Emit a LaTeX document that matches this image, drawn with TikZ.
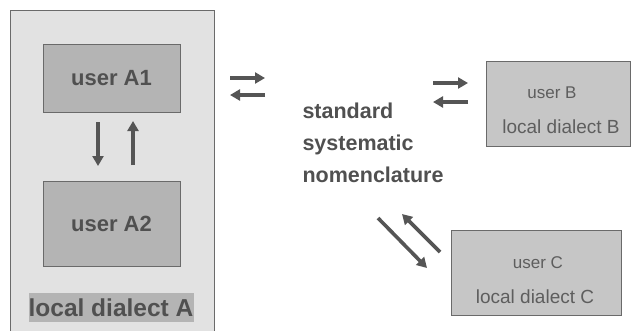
\documentclass[tikz,border=0pt]{standalone}
\usepackage{fontspec}
\setmainfont{Liberation Sans}
\usetikzlibrary{arrows.meta}
\definecolor{txt}{HTML}{505050}
\definecolor{txtl}{HTML}{5E5E5E}
\definecolor{outerfill}{HTML}{E2E2E2}
\definecolor{innerfill}{HTML}{B4B4B4}
\definecolor{sidefill}{HTML}{C6C6C6}
\definecolor{edge}{HTML}{6A6A6A}
\definecolor{arr}{HTML}{555555}
\tikzset{
  ubox/.style={draw=edge, line width=1pt, fill=innerfill, minimum width=137pt, minimum height=68pt, inner sep=0pt},
  sbox/.style={draw=edge, line width=1pt, fill=sidefill, inner sep=0pt},
  bigtxt/.style={text=txt, font=\fontsize{22}{24}\selectfont\bfseries},
  midtxt/.style={text=txt, font=\fontsize{21.5}{32}\selectfont\bfseries, align=left, anchor=north west},
  usertxt/.style={text=txtl, font=\fontsize{17}{18}\selectfont},
  dialtxt/.style={text=txtl, font=\fontsize{19}{20}\selectfont},
  flow/.style={draw=arr, line width=3.6pt, -{Triangle[length=10pt,width=11pt]}}
}
\begin{document}
\begin{tikzpicture}[x=1pt,y=-1pt]
\useasboundingbox (0,0) rectangle (631,330);
% outer box A
\fill[outerfill] (10,10) rectangle (214,332);
\draw[edge, line width=1pt] (10,332) -- (10,10) -- (214,10) -- (214,332);
\node[ubox, minimum height=68pt] (a1) at (111.5,78) {};
\node[bigtxt] at (a1) {user A1};
\node[ubox, minimum height=85pt] (a2) at (111.5,223.5) {};
\node[bigtxt] at (a2) {user A2};
\node[fill=innerfill, text=txt, font=\fontsize{24.5}{26}\selectfont\bfseries, inner xsep=0pt, inner ysep=2pt, minimum width=165pt, minimum height=29pt] (la) at (111,307.5) {local dialect A};
% arrows A1 <-> A2
\coordinate (d1) at (98,122);
\coordinate (d2) at (98,166);
\coordinate (u1) at (133,165);
\coordinate (u2) at (133,121);
\draw[flow] (d1) -- (d2);
\draw[flow] (u1) -- (u2);
% centre text
\node[midtxt] (std) at (299,99) {standard\\systematic\\nomenclature};
% left arrows
\coordinate (l1) at (230,78);
\coordinate (l2) at (265,78);
\coordinate (l3) at (265,95);
\coordinate (l4) at (230,95);
\draw[flow] (l1) -- (l2);
\draw[flow] (l3) -- (l4);
% box B
\node[sbox, minimum width=144pt, minimum height=85pt] (b) at (558,103.5) {};
\node[usertxt] (ub) at (552,93) {user B};
\node[dialtxt] (lb) at (561,127) {local dialect B};
% right arrows
\coordinate (r1) at (433,83);
\coordinate (r2) at (468,83);
\coordinate (r3) at (468,102);
\coordinate (r4) at (433,102);
\draw[flow] (r1) -- (r2);
\draw[flow] (r3) -- (r4);
% box C
\node[sbox, minimum width=170pt, minimum height=85pt] (c) at (536,272.5) {};
\node[usertxt] (uc) at (538,263) {user C};
\node[dialtxt] (lc) at (535,297) {local dialect C};
% diagonal arrows
\coordinate (g1) at (378,218);
\coordinate (g2) at (427,268);
\coordinate (g3) at (440,252);
\coordinate (g4) at (402,214);
\draw[flow] (g1) -- (g2);
\draw[flow] (g3) -- (g4);
\end{tikzpicture}
\end{document}
